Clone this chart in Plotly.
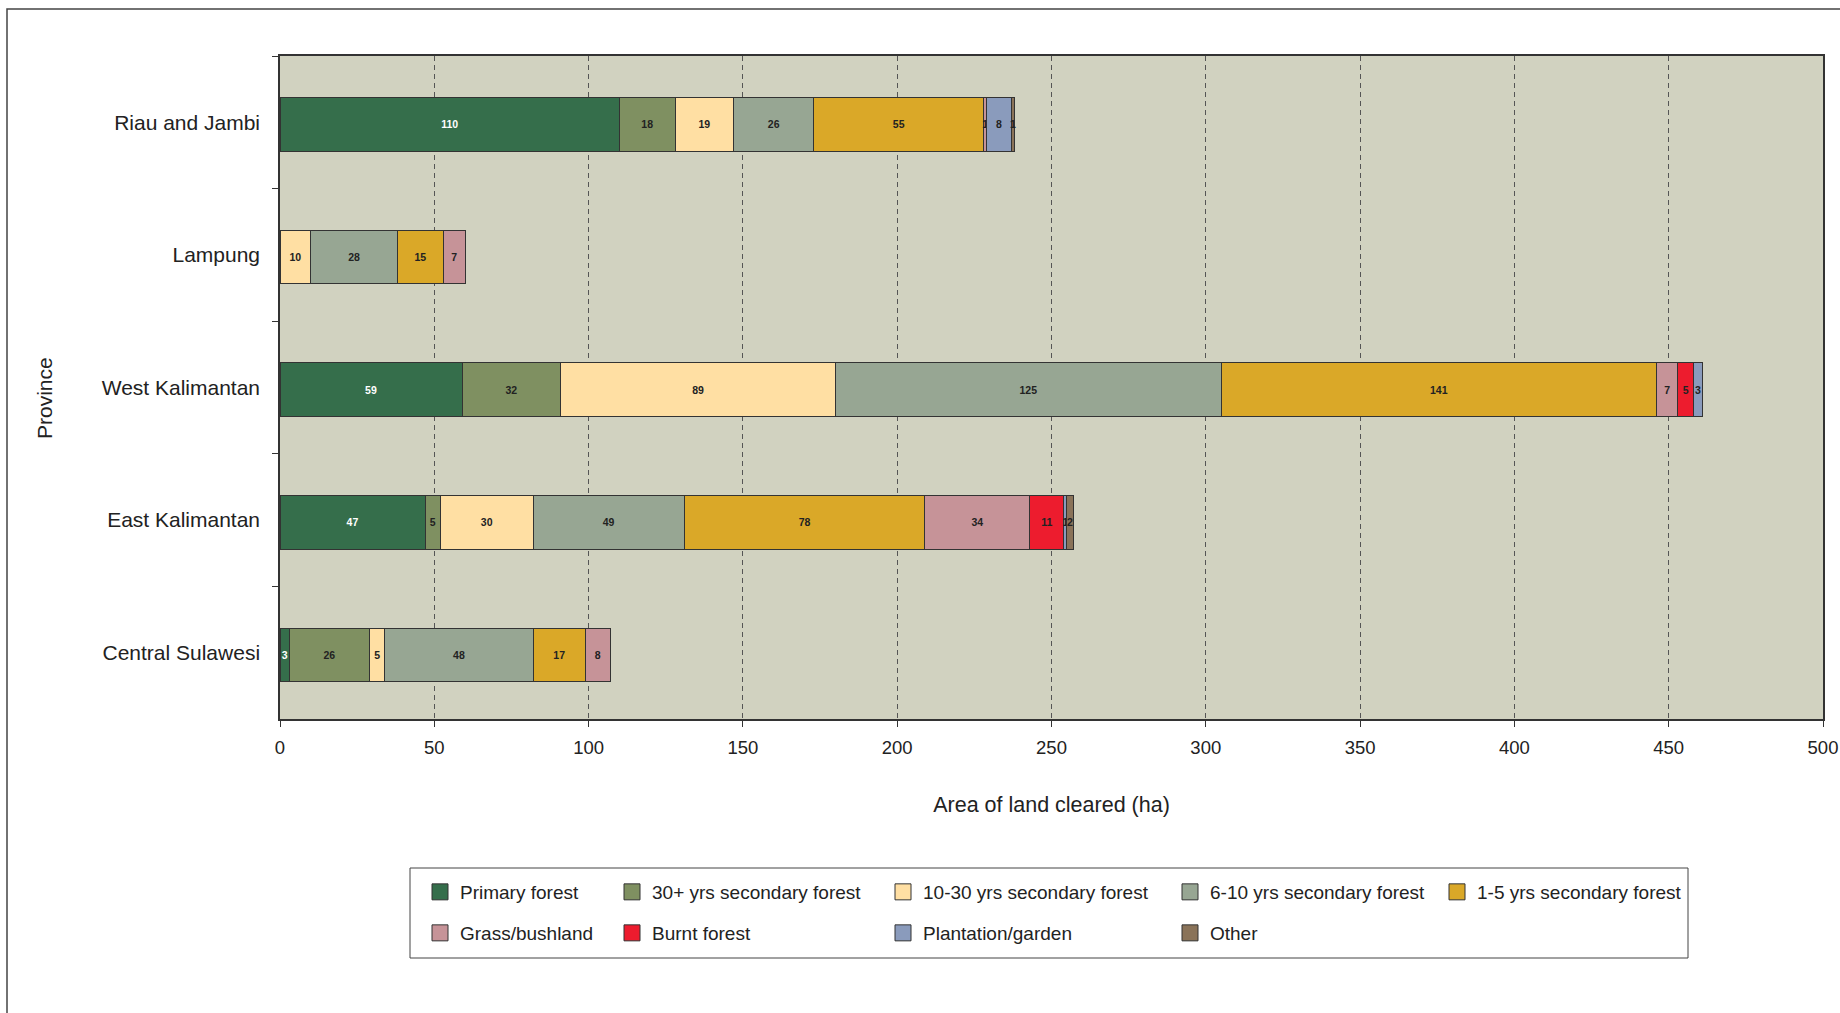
import plotly.graph_objects as go

# ---------------- data ----------------
provinces = ["Riau and Jambi", "Lampung", "West Kalimantan", "East Kalimantan", "Central Sulawesi"]
land_types = ["Primary forest", "30+ yrs secondary forest", "10-30 yrs secondary forest",
              "6-10 yrs secondary forest", "1-5 yrs secondary forest", "Grass/bushland",
              "Burnt forest", "Plantation/garden", "Other"]
primary_forest = [110, 0, 59, 47, 3]
secondary_30plus = [18, 0, 32, 5, 26]
secondary_10_30 = [19, 10, 89, 30, 5]
secondary_6_10 = [26, 28, 125, 49, 48]
secondary_1_5 = [55, 15, 141, 78, 17]
grass_bushland = [1, 7, 7, 34, 8]
burnt_forest = [0, 0, 5, 11, 0]
plantation_garden = [8, 0, 3, 1, 0]
other = [1, 0, 0, 2, 0]
x_tick_values = [0, 50, 100, 150, 200, 250, 300, 350, 400, 450, 500]

series = [primary_forest, secondary_30plus, secondary_10_30, secondary_6_10, secondary_1_5,
          grass_bushland, burnt_forest, plantation_garden, other]

# ---------------- style ----------------
colors = ["#356E4B", "#7F9061", "#FFDFA3", "#97A693", "#DAA828",
          "#C69398", "#ED1C2E", "#8A9BBC", "#8A7359"]
label_colors = ["#FFFFFF"] + ["#222222"] * 8

W, H = 1840, 1013
L, R, T, B = 280, 17, 56, 294
PW, PH = W - L - R, H - T - B

def px_x(px):
    return (px - L) / PW

def px_y(py):
    return (H - B - py) / PH

# legend layout (pixel positions of swatch centres)
col_px = [440, 632, 903, 1190, 1457]
row_px = [892, 933]
slots = [(0, 0), (1, 0), (2, 0), (3, 0), (4, 0), (0, 1), (1, 1), (2, 1), (3, 1)]

fig = go.Figure()

for i, (name, vals) in enumerate(zip(land_types, series)):
    xs = [v if v else None for v in vals]
    txt = [str(v) if v else "" for v in vals]
    fig.add_trace(go.Bar(
        y=provinces, x=xs, orientation="h", name=name,
        width=0.404, offset=-0.186,
        marker=dict(color=colors[i], line=dict(color="#333333", width=1)),
        text=txt, textposition="inside", insidetextanchor="middle", textangle=0,
        constraintext="none",
        textfont=dict(family="Liberation Sans, Arial",
                      size=10.5, color=label_colors[i], weight="bold"),
        showlegend=False, hoverinfo="x+y+name", cliponaxis=False,
    ))

legend_layouts = {}
for i, name in enumerate(land_types):
    key = "legend" if i == 0 else f"legend{i+1}"
    fig.add_trace(go.Scatter(
        x=[None], y=[None], mode="markers", name=name, legend=key,
        marker=dict(symbol="square", size=16, color=colors[i],
                    line=dict(color="#333333", width=1)),
        showlegend=True, hoverinfo="skip",
    ))
    c, r = slots[i]
    legend_layouts[key] = dict(
        x=px_x(col_px[c] - 20), y=px_y(row_px[r]), xanchor="left", yanchor="middle",
        bgcolor="rgba(0,0,0,0)", borderwidth=0,
        font=dict(family="Liberation Sans, Arial", size=19, color="#222222"),
        itemsizing="trace",
    )

fig.update_layout(
    width=W, height=H,
    margin=dict(l=L, r=R, t=T, b=B, autoexpand=False),
    paper_bgcolor="white", plot_bgcolor="#D1D2C0",
    barmode="stack", bargap=0.6,
    font=dict(family="Liberation Sans, Arial", color="#222222"),
    **legend_layouts,
)

fig.update_xaxes(
    range=[0, 500], tickvals=x_tick_values, ticktext=[str(v) for v in x_tick_values],
    automargin=False,
    showgrid=True, gridcolor="#555555", gridwidth=1, griddash="5px,4px",
    zeroline=False, showline=True, linecolor="#333333", linewidth=1.5, mirror=True,
    ticks="outside", ticklen=6, tickcolor="#333333", tickwidth=1,
    tickfont=dict(size=18.5, color="#222222"), ticklabelstandoff=5,
    title=dict(text="Area of land cleared (ha)", font=dict(size=21.5, color="#222222"), standoff=40),
)
fig.update_yaxes(
    categoryorder="array", categoryarray=provinces, autorange="reversed",
    automargin=False,
    showgrid=False, zeroline=False, showline=True, linecolor="#333333", linewidth=1.5, mirror=True,
    ticks="outside", tickson="boundaries", ticklen=6, tickcolor="#333333", tickwidth=1,
    tickfont=dict(size=21, color="#222222"), ticklabelstandoff=14,
)

# y axis title
fig.add_annotation(text="Province", xref="paper", yref="paper",
                   x=px_x(45), y=px_y(398), xanchor="center", yanchor="middle",
                   textangle=-90, showarrow=False,
                   font=dict(size=21, color="#222222", family="Liberation Sans, Arial"))

# outer frame of the figure (partly cut off at right and bottom)
fig.add_shape(type="rect", xref="paper", yref="paper",
              x0=px_x(7), x1=px_x(1860), y0=px_y(1030), y1=px_y(9),
              line=dict(color="#444444", width=1.5), fillcolor="rgba(0,0,0,0)", layer="below")
# legend box
fig.add_shape(type="rect", xref="paper", yref="paper",
              x0=px_x(410), x1=px_x(1688), y0=px_y(958), y1=px_y(868),
              line=dict(color="#444444", width=1), fillcolor="rgba(0,0,0,0)")

fig.write_html("out.html", config={"displayModeBar": False},
               post_script="document.body.style.margin='0';document.body.style.overflow='hidden';")
